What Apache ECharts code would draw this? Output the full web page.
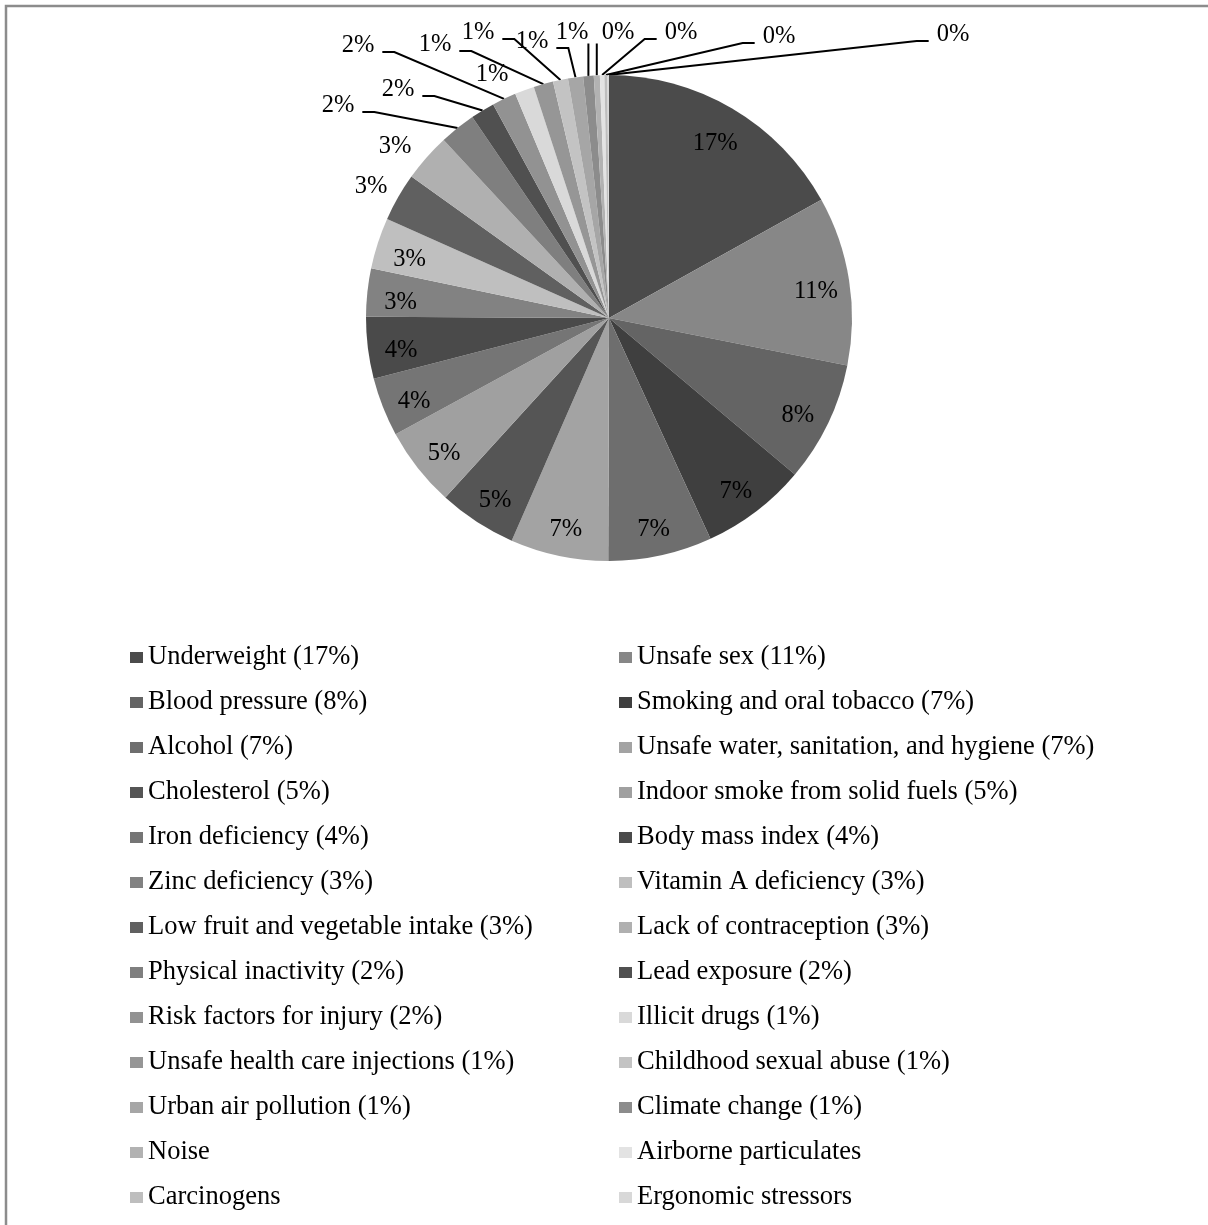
<!DOCTYPE html>
<html>
<head>
<meta charset="utf-8">
<script src="https://cdn.jsdelivr.net/npm/echarts@6/dist/echarts.min.js"></script>
<style>
html,body{margin:0;padding:0;background:#fff;}
#chart{width:1208px;height:1225px;}
</style>
</head>
<body>
<div id="chart"></div>
<script>
var categories = [
  "Underweight (17%)", "Unsafe sex (11%)", "Blood pressure (8%)", "Smoking and oral tobacco (7%)",
  "Alcohol (7%)", "Unsafe water, sanitation, and hygiene (7%)", "Cholesterol (5%)", "Indoor smoke from solid fuels (5%)",
  "Iron deficiency (4%)", "Body mass index (4%)", "Zinc deficiency (3%)", "Vitamin A deficiency (3%)",
  "Low fruit and vegetable intake (3%)", "Lack of contraception (3%)", "Physical inactivity (2%)", "Lead exposure (2%)",
  "Risk factors for injury (2%)", "Illicit drugs (1%)", "Unsafe health care injections (1%)", "Childhood sexual abuse (1%)",
  "Urban air pollution (1%)", "Climate change (1%)", "Noise", "Airborne particulates",
  "Carcinogens", "Ergonomic stressors"
];
var values = [
  16.9, 11.2, 8.0, 7.0,
  6.9, 6.5, 5.2, 5.3,
  3.9, 4.1, 3.2, 3.4,
  3.2, 3.2, 2.4, 1.6,
  1.6, 1.3, 1.3, 1.0,
  1.0, 0.7, 0.4, 0.3,
  0.2, 0.1
];
var colors = [
  "#4b4b4b", "#878787", "#646464", "#3f3f3f",
  "#6e6e6e", "#a3a3a3", "#555555", "#a0a0a0",
  "#757575", "#4a4a4a", "#828282", "#bfbfbf",
  "#606060", "#b0b0b0", "#7f7f7f", "#505050",
  "#929292", "#d9d9d9", "#969696", "#c3c3c3",
  "#a6a6a6", "#8c8c8c", "#b2b2b2", "#e3e3e3",
  "#bebebe", "#d8d8d8"
];
var insideCount = 12;
// slices whose outside label sits at the rim without a leader line
var noLeaderLine = [12, 13, 17];
// placement of outside labels (text centres), in the style of the original's best-fit layout
var outsideLabelPos = [
  [371,187],[395,147],[338,106],[398,90],[358,46],[492,75],[435,45],
  [478,33],[532,42],[572,33],[618,33],[681,33],[779,37],[953,35]
];

var total = values.reduce(function(a,b){return a+b;}, 0);
function pctLabel(p){ return Math.round(p.value / total * 100) + '%'; }

var FONT = 'Liberation Serif, Times New Roman, serif';

var outerData = categories.map(function(n, i){
  var outside = i >= insideCount;
  return {
    name: n, value: values[i],
    itemStyle: {color: colors[i]},
    label: {show: outside},
    labelLine: {show: outside && noLeaderLine.indexOf(i) < 0}
  };
});
var innerData = categories.map(function(n, i){
  return {
    name: n, value: values[i],
    itemStyle: {color: 'rgba(0,0,0,0)'},
    label: {show: i < insideCount}
  };
});

function outsideLayout(p){
  var k = p.dataIndex - insideCount;
  if (k < 0) return {};
  var pos = outsideLabelPos[k];
  var w = p.labelRect.width, h = p.labelRect.height;
  var res = {x: pos[0], y: pos[1], align: 'center', verticalAlign: 'middle'};
  var pts = p.labelLinePoints;
  if (pts && pts.length) {
    var a = pts[0];
    var yl = pos[1] + 6;
    if (Math.abs(pos[0] - a[0]) < w / 2 + 15) {
      var yb = pos[1] + h / 2 - 2;
      res.labelLinePoints = [a, [a[0], yb], [a[0], yb]];
    } else {
      var ex, sx;
      if (pos[0] < a[0]) { ex = pos[0] + w / 2 + 8; sx = ex + 12; }
      else { ex = pos[0] - w / 2 - 8; sx = ex - 12; }
      res.labelLinePoints = [a, [sx, yl], [ex, yl]];
    }
  }
  return res;
}

var chart = echarts.init(document.getElementById('chart'), null, {renderer: 'canvas'});
var legendText = {fontFamily: FONT, fontSize: 26.5, color: '#000'};
chart.setOption({
  backgroundColor: '#ffffff',
  animation: false,
  graphic: [{
    type: 'rect',
    shape: {x: 6, y: 6, width: 1240, height: 1260},
    style: {fill: 'none', stroke: '#8c8c8c', lineWidth: 2.5},
    silent: true
  }],
  legend: [{
    orient: 'vertical', left: 130, top: 644, padding: 0,
    data: categories.filter(function(_, i){ return i % 2 === 0; }),
    icon: 'rect', itemWidth: 13, itemHeight: 11, itemGap: 18.0,
    selectedMode: false,
    textStyle: legendText
  }, {
    orient: 'vertical', left: 619, top: 644, padding: 0,
    data: categories.filter(function(_, i){ return i % 2 === 1; }),
    icon: 'rect', itemWidth: 13, itemHeight: 11, itemGap: 18.0,
    selectedMode: false,
    textStyle: legendText
  }],
  series: [{
    type: 'pie',
    center: [609, 318],
    radius: [0, 243],
    startAngle: 90,
    clockwise: true,
    avoidLabelOverlap: false,
    minShowLabelAngle: 0,
    data: outerData,
    emphasis: {disabled: true},
    label: {
      position: 'outside',
      formatter: pctLabel,
      fontFamily: FONT, fontSize: 24.5, color: '#000'
    },
    labelLine: {
      length: 20, length2: 20,
      lineStyle: {color: '#000', width: 2}
    },
    labelLayout: outsideLayout
  }, {
    type: 'pie',
    center: [609, 318],
    radius: [170, 243],
    startAngle: 90,
    clockwise: true,
    silent: true,
    data: innerData,
    emphasis: {disabled: true},
    label: {
      position: 'inside',
      formatter: function(p){ return '\n' + pctLabel(p); },
      lineHeight: 13,
      fontFamily: FONT, fontSize: 24.5, color: '#000'
    },
    labelLine: {show: false}
  }]
});
</script>
</body>
</html>
